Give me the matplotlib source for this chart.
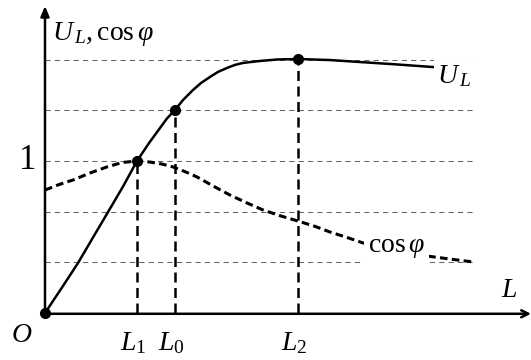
import matplotlib
matplotlib.use("Agg")
import matplotlib.pyplot as plt

plt.rcParams['font.family'] = ['Liberation Serif', 'DejaVu Serif']
plt.rcParams['mathtext.fontset'] = 'custom'
plt.rcParams['mathtext.rm'] = 'Liberation Serif'
plt.rcParams['mathtext.it'] = 'Liberation Serif:italic'
plt.rcParams['mathtext.bf'] = 'Liberation Serif:bold'

# ---- data ----
ul_x = [0, 0.17, 0.33, 0.48, 0.63, 0.78, 0.92, 1.04, 1.15, 1.22, 1.30, 1.38, 1.48, 1.56, 1.65,
        1.73, 1.82, 1.90, 1.98, 2.07, 2.15, 2.33, 2.53, 2.85, 3.15, 3.50, 3.88, 4.28]
ul_y = [0, 0.168, 0.329, 0.497, 0.664, 0.832, 1.0, 1.118, 1.217, 1.280, 1.336, 1.401, 1.467, 1.513, 1.553,
        1.586, 1.612, 1.632, 1.645, 1.652, 1.658, 1.668, 1.671, 1.664, 1.651, 1.636, 1.618, 1.599]

cos_x = [0, 0.14, 0.28, 0.45, 0.62, 0.77, 0.92, 1.05, 1.17, 1.28, 1.40, 1.52, 1.68, 1.85, 2.02,
         2.18, 2.35, 2.53, 2.70, 2.85, 3.02, 3.18, 3.50, 3.82, 4.05, 4.28]
cos_y = [0.809, 0.845, 0.875, 0.921, 0.961, 0.990, 1.0, 0.993, 0.980, 0.961, 0.930, 0.895, 0.836, 0.776, 0.724,
         0.678, 0.640, 0.605, 0.570, 0.533, 0.497, 0.461, 0.414, 0.375, 0.355, 0.336]

key_names = ['$L_1$', '$L_0$', '$L_2$']
key_x = [0.92, 1.30, 2.53]
key_y = [1.0, 1.336, 1.671]

grid_levels = [1/3, 2/3, 1.0, 4/3, 5/3]
grid_end = 4.28

fig = plt.figure(figsize=(5.31, 3.6), dpi=100)
ax = fig.add_axes([0, 0, 1, 1])
ax.set_xlim(-0.45, 4.86)
ax.set_ylim(-0.309, 2.059)
ax.axis('off')

# grid lines
for g in grid_levels:
    ax.plot([0, grid_end], [g, g], color='#666666', lw=0.75, dashes=(5, 4), zorder=1)

# axes with arrows
ax.annotate('', xy=(0, 2.02), xytext=(0, -0.005),
            arrowprops=dict(arrowstyle='-|>,head_length=0.6,head_width=0.25', color='black', lw=1.8, shrinkA=0, shrinkB=0), zorder=5)
ax.annotate('', xy=(4.86, -0.005), xytext=(0, -0.005),
            arrowprops=dict(arrowstyle='->,head_length=0.5,head_width=0.25', color='black', lw=1.8, shrinkA=0, shrinkB=0), zorder=5)

# curves
ax.plot(ul_x, ul_y, color='black', lw=1.8, solid_capstyle='butt', solid_joinstyle='round', zorder=3)
ax.plot(cos_x, cos_y, color='black', lw=2.2, dashes=(2.5, 1.4), zorder=3)

# vertical dashed markers
for kx, ky in zip(key_x, key_y):
    ax.plot([kx, kx], [0, ky], color='black', lw=1.8, dashes=(4, 2.2), zorder=2)
ax.plot(key_x, key_y, 'o', color='black', ms=7, zorder=6)
ax.plot([0], [0], 'o', color='black', ms=7, zorder=6)

# labels
fs = 20
for name, kx in zip(key_names, key_x):
    ax.text(kx - 0.04, -0.243, name, fontsize=fs, ha='center', va='baseline')
ax.text(-0.23, -0.151, '$O$', fontsize=fs, ha='center', va='center')
ax.text(-0.17, 1.0, '1', fontsize=25, ha='center', va='center')
ax.text(4.64, 0.151, '$L$', fontsize=fs, ha='center', va='center')
ax.text(0.07, 1.796, r'$U_{\,L},\mathrm{cos}\,\varphi$', fontsize=fs, ha='left', va='baseline')
ax.text(3.92, 1.513, r'$U_{\,L}$', fontsize=fs, ha='left', va='baseline', zorder=4,
        bbox=dict(facecolor='white', edgecolor='none', pad=2))
ax.text(3.23, 0.401, r'$\mathrm{cos}\,\varphi$', fontsize=fs, ha='left', va='baseline', zorder=4,
        bbox=dict(facecolor='white', edgecolor='none', pad=3))

fig.savefig('out.png', dpi=100)
